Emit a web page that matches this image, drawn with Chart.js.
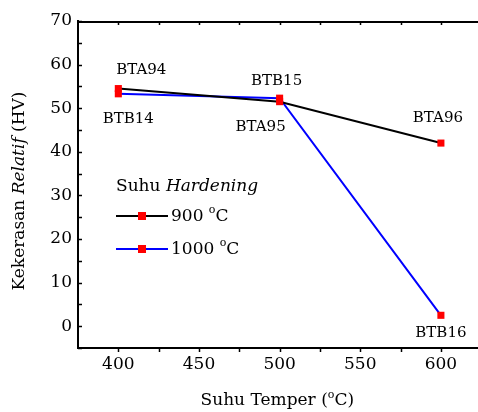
<!DOCTYPE html>
<html>
<head>
<meta charset="utf-8">
<script src="https://cdn.jsdelivr.net/npm/chart.js@4/dist/chart.umd.min.js"></script>
<style>
  html, body { margin: 0; padding: 0; background: #fff; overflow: hidden; }
  #wrap { width: 478px; height: 412px; }
</style>
</head>
<body>
<div id="wrap"><canvas id="chart"></canvas></div>
<script>
// Data
const temperTemps = [400, 500, 600];
const hard900 = [54.5, 51.5, 42.0];
const hard1000 = [53.3, 52.3, 2.5];
const labels900 = ["BTA94", "BTA95", "BTA96"];
const labels1000 = ["BTB14", "BTB15", "BTB16"];
const xTicks = [400, 450, 500, 550, 600];
const yTicks = [0, 10, 20, 30, 40, 50, 60, 70];

const FONT = "'DejaVu Serif', serif";

// label offsets from the point (px), per dataset
const labelOffsets = [
  [[23, -18], [-19, 25], [-3, -25]],
  [[10, 25], [-3, -17], [0, 18]]
];

function toPoints(xs, ys) {
  return xs.map((x, i) => ({ x: x, y: ys[i] }));
}

// Draw superscript "o" for degree sign
function drawDegText(ctx, text, x, y, size) {
  const parts = text.split("°");
  ctx.font = size + "px " + FONT;
  ctx.fillText(parts[0], x, y);
  let w = ctx.measureText(parts[0]).width;
  if (parts.length > 1) {
    ctx.font = Math.round(size * 0.62) + "px " + FONT;
    ctx.fillText("o", x + w, y - size * 0.42);
    w += ctx.measureText("o").width;
    ctx.font = size + "px " + FONT;
    ctx.fillText(parts[1], x + w, y);
    w += ctx.measureText(parts[1]).width;
  }
  return w;
}

const decorPlugin = {
  id: "decor",
  afterDraw(chart) {
    const ctx = chart.ctx;
    const area = chart.chartArea;
    const xs = chart.scales.x, ys = chart.scales.y;
    ctx.save();
    ctx.strokeStyle = "#000";
    ctx.fillStyle = "#000";

    // top frame line
    ctx.lineWidth = 2;
    ctx.beginPath();
    ctx.moveTo(area.left, area.top + 1);
    ctx.lineTo(area.right, area.top + 1);
    ctx.stroke();

    // ticks: left inward, bottom outward, top inward
    ctx.lineWidth = 1.5;
    for (let v = -5; v <= 70; v += 5) {
      const py = Math.round(ys.getPixelForValue(v)) + 0.5;
      ctx.beginPath();
      ctx.moveTo(area.left, py);
      ctx.lineTo(area.left + 4, py);
      ctx.stroke();
    }
    for (let v = 375; v <= 625; v += 25) {
      const px = Math.round(xs.getPixelForValue(v)) + 0.5;
      if (px < area.left + 2 || px > area.right) continue;
      ctx.beginPath();
      ctx.moveTo(px, area.bottom);
      ctx.lineTo(px, area.bottom + 4);
      ctx.stroke();
      ctx.beginPath();
      ctx.moveTo(px, area.top + 1);
      ctx.lineTo(px, area.top + 4);
      ctx.stroke();
    }

    // point labels
    ctx.font = "15px " + FONT;
    ctx.textAlign = "center";
    ctx.textBaseline = "middle";
    chart.data.datasets.forEach((ds, di) => {
      const meta = chart.getDatasetMeta(di);
      meta.data.forEach((pt, i) => {
        const off = labelOffsets[di][i];
        ctx.fillText(ds.pointLabels[i], pt.x + off[0], pt.y + off[1]);
      });
    });

    // y axis title with italic word
    ctx.save();
    ctx.translate(20, 191);
    ctx.rotate(-Math.PI / 2);
    ctx.textAlign = "left";
    ctx.textBaseline = "middle";
    const seg = [["Kekerasan ", ""], ["Relatif", "italic "], [" (HV)", ""]];
    let total = 0;
    seg.forEach(s => { ctx.font = s[1] + "17px " + FONT; total += ctx.measureText(s[0]).width; });
    let cx = -total / 2;
    seg.forEach(s => {
      ctx.font = s[1] + "17px " + FONT;
      ctx.fillText(s[0], cx, 0);
      cx += ctx.measureText(s[0]).width;
    });
    ctx.restore();

    // x axis title
    ctx.textAlign = "left";
    ctx.textBaseline = "alphabetic";
    ctx.font = "17px " + FONT;
    const xt = "Suhu Temper (°C)";
    const xtw = ctx.measureText("Suhu Temper (C)").width + 8;
    drawDegText(ctx, xt, 278 - xtw / 2, 405, 17);

    // legend
    ctx.font = "17px " + FONT;
    ctx.fillText("Suhu ", 116, 191);
    const sw = ctx.measureText("Suhu ").width;
    ctx.font = "italic 17px " + FONT;
    ctx.fillText("Hardening", 116 + sw, 191);
    const rows = [216, 249];
    chart.data.datasets.forEach((ds, di) => {
      const y = rows[di];
      ctx.strokeStyle = ds.borderColor;
      ctx.lineWidth = 2;
      ctx.beginPath();
      ctx.moveTo(116, y);
      ctx.lineTo(168, y);
      ctx.stroke();
      ctx.fillStyle = ds.pointBackgroundColor;
      ctx.fillRect(138, y - 4, 8, 8);
      ctx.fillStyle = "#000";
      ctx.textBaseline = "middle";
      drawDegText(ctx, ds.label, 171, y + 1, 17);
    });
    ctx.restore();
  }
};

new Chart(document.getElementById("chart"), {
  type: "line",
  data: {
    datasets: [{
      label: "900 °C",
      data: toPoints(temperTemps, hard900),
      pointLabels: labels900,
      borderColor: "#000000",
      borderWidth: 2,
      pointStyle: "rect",
      pointRadius: 5,
      pointBorderWidth: 0,
      pointBackgroundColor: "#ff0000",
      pointBorderColor: "#ff0000",
      tension: 0
    }, {
      label: "1000 °C",
      data: toPoints(temperTemps, hard1000),
      pointLabels: labels1000,
      borderColor: "#0000ff",
      borderWidth: 2,
      pointStyle: "rect",
      pointRadius: 5,
      pointBorderWidth: 0,
      pointBackgroundColor: "#ff0000",
      pointBorderColor: "#ff0000",
      tension: 0
    }]
  },
  options: {
    responsive: true,
    maintainAspectRatio: false,
    animation: false,
    layout: { autoPadding: false, padding: { top: 21, right: 0, left: 0, bottom: 0 } },
    plugins: {
      legend: { display: false },
      tooltip: { enabled: false }
    },
    scales: {
      x: {
        type: "linear",
        min: 375,
        max: 623,
        afterBuildTicks: s => { s.ticks = xTicks.map(v => ({ value: v })); },
        afterFit: s => { s.height = 64; },
        grid: { display: false, drawTicks: false },
        border: { display: true, color: "#000", width: 2 },
        ticks: { color: "#000", padding: 6, font: { family: FONT, size: 17 } }
      },
      y: {
        min: -5,
        max: 70,
        afterBuildTicks: s => { s.ticks = yTicks.map(v => ({ value: v })); },
        afterFit: s => { s.width = 78; },
        grid: { display: false, drawTicks: false },
        border: { display: true, color: "#000", width: 2 },
        ticks: { color: "#000", padding: 6, font: { family: FONT, size: 17 } }
      }
    }
  },
  plugins: [decorPlugin]
});
</script>
</body>
</html>
